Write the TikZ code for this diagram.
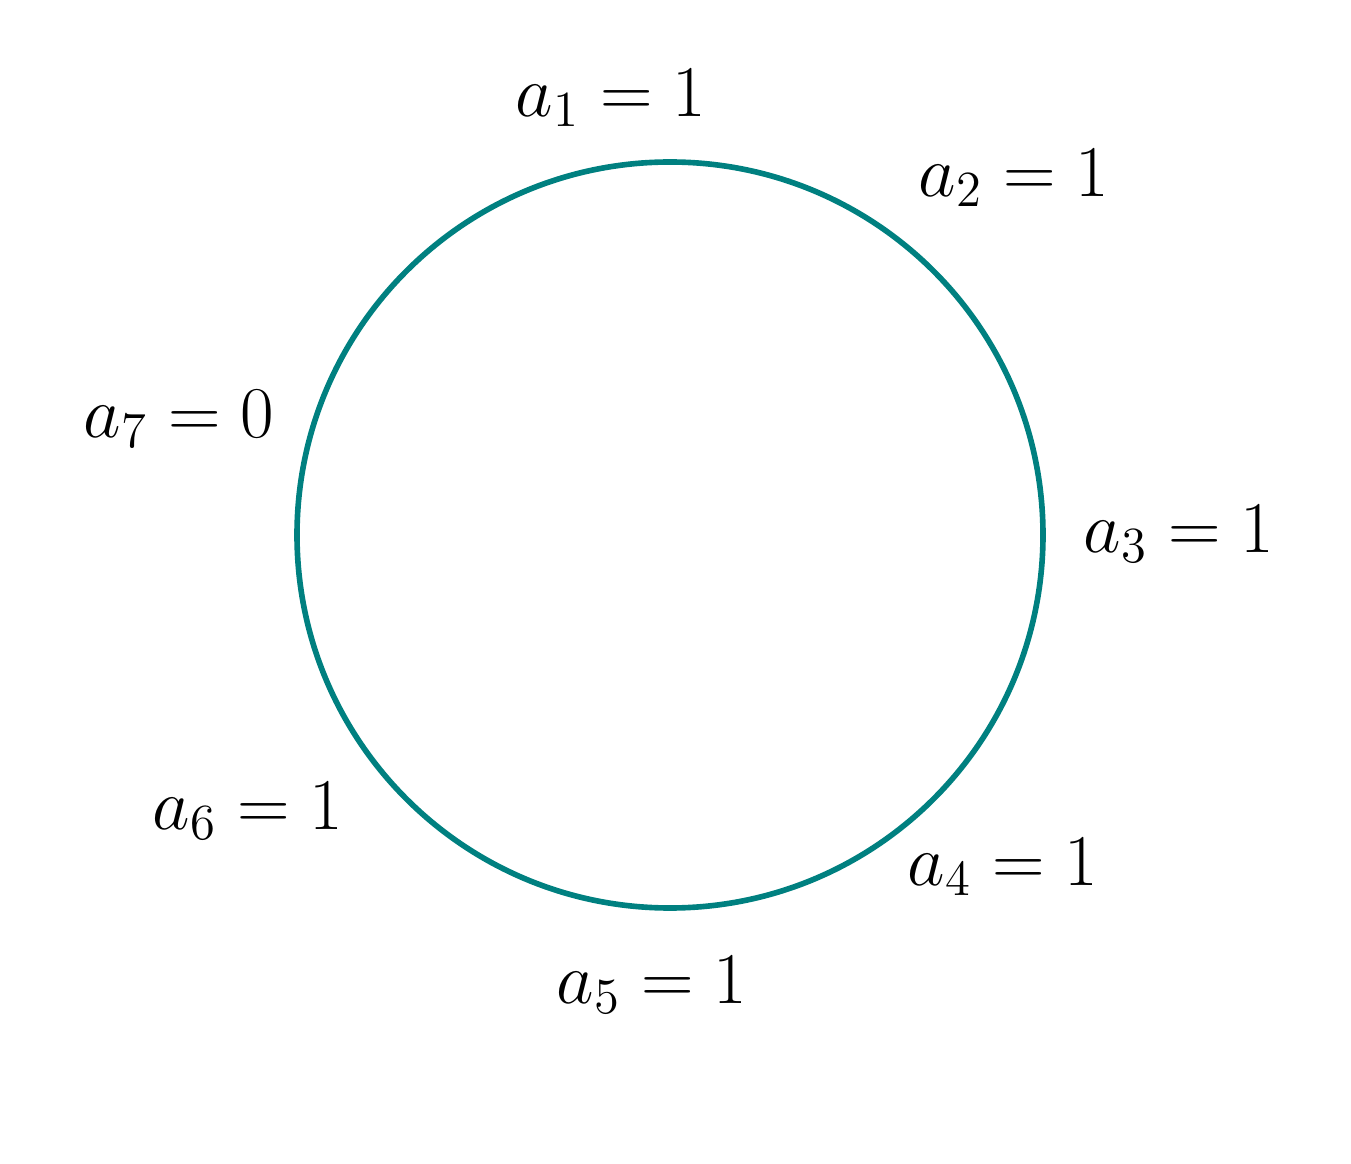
\documentclass[tikz,border=0pt]{standalone}
\usepackage{amsmath}
\begin{document}
\begin{tikzpicture}[every node/.style={font=\fontsize{19.8}{24}\selectfont}]
            \useasboundingbox (0,0) rectangle (13.51,-11.64);
            \coordinate (o) at (6.70,-5.35);
            \draw[teal,line width=1.6pt] (o) circle (3.73);
            \node (a1) at (6.11,-0.98) {\(a_1=1\)};
            \node (a2) at (10.14,-1.78) {\(a_2=1\)};
            \node (a3) at (11.79,-5.34) {\(a_3=1\)};
            \node (a4) at (10.03,-8.67) {\(a_4=1\)};
            \node (a5) at (6.52,-9.85) {\(a_5=1\)};
            \node (a6) at (2.48,-8.11) {\(a_6=1\)};
            \node (a7) at (1.79,-4.19) {\(a_7=0\)};
        \end{tikzpicture}
\end{document}
